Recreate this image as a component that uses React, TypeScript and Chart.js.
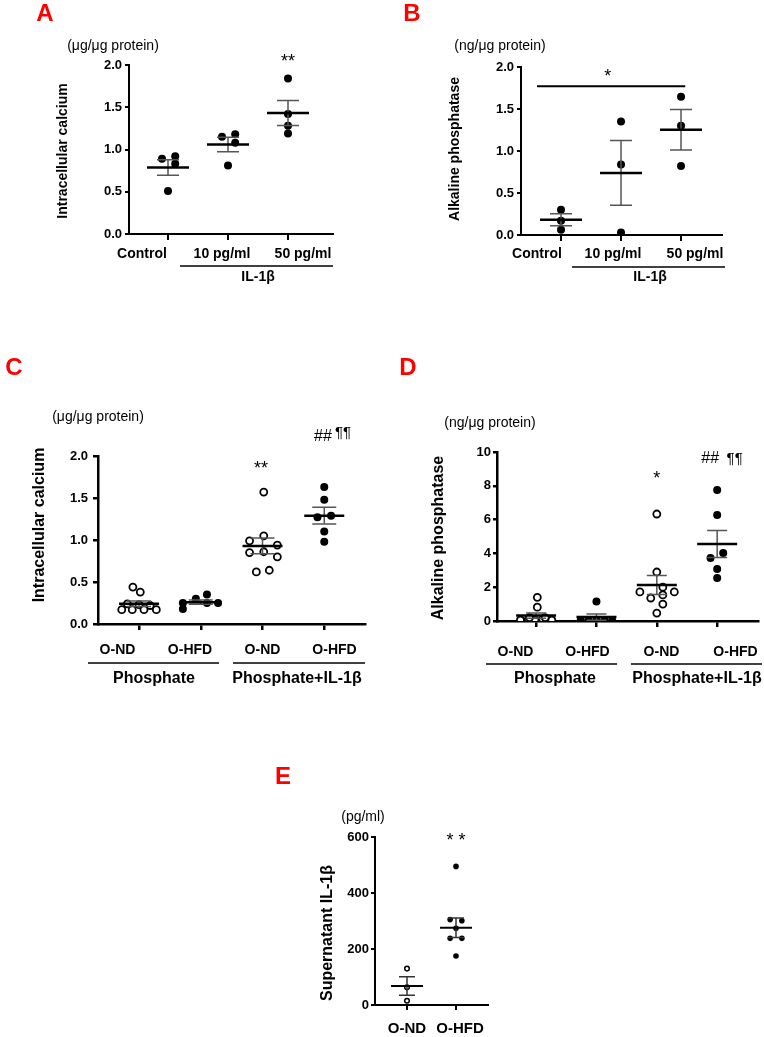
import React, { useEffect, useRef } from "react";
import { Chart, registerables } from "chart.js";
Chart.register(...registerables);

const FONT = 'Arial, "Liberation Sans", Helvetica, sans-serif';

// ---------- Panel A: intracellular calcium vs IL-1β dose ----------
const aCategories = ["Control", "10 pg/ml", "50 pg/ml"];
const aYTicks = [0, 0.5, 1.0, 1.5, 2.0];
const aControl = [0.89, 0.92, 0.83, 0.51];
const a10 = [1.15, 1.18, 1.08, 0.81];
const a50 = [1.84, 1.42, 1.28, 1.19];
const aMeans = [0.787, 1.059, 1.433];
const aSems = [0.092, 0.087, 0.148];
const aJitterControl = [-0.1, 0.12, 0.12, 0];
const aJitter10 = [-0.1, 0.12, 0.12, 0];
const aJitter50 = [0, 0, 0, 0];

// ---------- Panel B: alkaline phosphatase vs IL-1β dose ----------
const bCategories = ["Control", "10 pg/ml", "50 pg/ml"];
const bYTicks = [0, 0.5, 1.0, 1.5, 2.0];
const bControl = [0.3, 0.17, 0.063];
const b10 = [1.35, 0.84, 0.03];
const b50 = [1.645, 1.3, 0.82];
const bMeans = [0.182, 0.739, 1.253];
const bSems = [0.071, 0.386, 0.241];
const bJitter = [0, 0, 0];
const bSigLevel = 1.77;

// ---------- Panel C: intracellular calcium, O-ND / O-HFD ----------
const cCategories = ["O-ND", "O-HFD", "O-ND", "O-HFD"];
const cYTicks = [0, 0.5, 1.0, 1.5, 2.0];
const cPhosND = [0.44, 0.38, 0.24, 0.23, 0.22, 0.17, 0.17, 0.17, 0.17];
const cPhosHFD = [0.25, 0.18, 0.3, 0.35, 0.25, 0.25];
const cIlND = [1.57, 1.05, 0.99, 0.94, 0.85, 0.86, 0.8, 0.62, 0.64];
const cIlHFD = [1.63, 1.48, 1.27, 1.29, 1.1, 0.98];
const cMeans = [0.24, 0.26, 0.93, 1.29];
const cSems = [0.033, 0.025, 0.095, 0.1];
const cJitterPhosND = [-0.1, 0.02, -0.19, 0, 0.18, -0.28, -0.11, 0.08, 0.28];
const cJitterPhosHFD = [-0.29, -0.29, -0.08, 0.1, 0.1, 0.28];
const cJitterIlND = [0.02, 0.02, -0.21, 0.24, -0.21, 0.02, 0.24, -0.1, 0.11];
const cJitterIlHFD = [0, 0, -0.11, 0.11, 0, 0];

// ---------- Panel D: alkaline phosphatase, O-ND / O-HFD ----------
const dCategories = ["O-ND", "O-HFD", "O-ND", "O-HFD"];
const dYTicks = [0, 2, 4, 6, 8, 10];
const dPhosND = [1.4, 0.82, 0.06, 0.1, 0.06, 0.12, 0.06, 0.2, 0.2];
const dPhosHFD = [1.15, 0.05, 0.05, 0.05, 0.05, 0.05];
const dIlND = [6.33, 2.9, 1.72, 2.0, 1.72, 1.36, 1.54, 1.0, 0.47];
const dIlHFD = [7.75, 6.27, 3.73, 4.02, 3.08, 2.54];
const dMeans = [0.32, 0.23, 2.13, 4.56];
const dSems = [0.15, 0.18, 0.56, 0.8];
const dJitterPhosND = [0.02, 0.02, -0.26, -0.13, -0.02, 0.11, 0.26, -0.11, 0.15];
const dJitterPhosHFD = [0, -0.26, -0.13, 0, 0.13, 0.26];
const dJitterIlND = [0, 0, -0.28, 0.1, 0.29, -0.1, 0.1, 0.1, 0];
const dJitterIlHFD = [0, 0, -0.11, 0.1, 0, 0];

// ---------- Panel E: supernatant IL-1β ----------
const eCategories = ["O-ND", "O-HFD"];
const eYTicks = [0, 200, 400, 600];
const eND = [130, 63, 15];
const eHFD = [495, 305, 301, 274, 238, 238, 175];
const eMeans = [68, 276];
const eSems = [33, 35];
const eJitterND = [0, 0, 0];
const eJitterHFD = [0, -0.12, 0.12, 0, -0.12, 0.12, 0];

type Group = { values: number[]; jitter: number[]; filled: boolean; mean: number; sem: number };
type Txt = { text: string; x: number; y: number; size: number; bold?: boolean; color?: string; rotate?: boolean };
type Ann = { text: string; cat: number; value: number; size: number; bold?: boolean };
type Seg = { x1: number; y1: number; x2: number; y2: number; w: number };
type DataSeg = { from: number; to: number; value: number; w: number };
type Style = {
  pointRadius: number; openBorder: number; meanHalf: number; capHalf: number; axisWidth: number;
  errColor: string; errWidth: number; meanWidth: number;
  xFont: number; yFont: number; yPad: number; xTickLen: number; yTickLen: number;
};
type Panel = {
  box: [number, number, number, number];
  area: [number, number, number, number];
  xMin: number; xMax: number; categories: string[];
  labelX: number[]; labelY: number;
  yMin: number; yMax: number; yTicks: number[]; yDecimals: number;
  groups: Group[]; style: Style;
  texts: Txt[]; anns: Ann[]; segs: Seg[]; dataSegs: DataSeg[];
};

const grp = (values: number[], jitter: number[], filled: boolean, mean: number, sem: number): Group => ({ values, jitter, filled, mean, sem });

const panels: Panel[] = [
  {
    box: [0, 0, 382, 290], area: [129, 65, 333, 234],
    xMin: 0.35, xMax: 3.75, categories: aCategories,
    labelX: [142, 222, 303], labelY: 254,
    yMin: 0, yMax: 2, yTicks: aYTicks, yDecimals: 1,
    groups: [
      grp(aControl, aJitterControl, true, aMeans[0], aSems[0]),
      grp(a10, aJitter10, true, aMeans[1], aSems[1]),
      grp(a50, aJitter50, true, aMeans[2], aSems[2]),
    ],
    style: { pointRadius: 4, openBorder: 1.8, meanHalf: 21, capHalf: 11, axisWidth: 2, errColor: "#555", errWidth: 1.5, meanWidth: 2.5, xFont: 14, yFont: 13, yPad: 3, xTickLen: 6, yTickLen: 4 },
    texts: [
      { text: "A", x: 45, y: 14, size: 24, bold: true, color: "#ff0000" },
      { text: "(μg/μg protein)", x: 113, y: 46, size: 14 },
      { text: "Intracellular calcium", x: 63, y: 151, size: 14, bold: true, rotate: true },
      { text: "IL-1β", x: 258, y: 277, size: 14, bold: true },
    ],
    anns: [{ text: "**", cat: 3, value: 2.04, size: 18 }],
    segs: [{ x1: 180, y1: 266, x2: 333, y2: 266, w: 1.5 }],
    dataSegs: [],
  },
  {
    box: [382, 0, 382, 290], area: [521, 67, 722, 235],
    xMin: 0.333, xMax: 3.683, categories: bCategories,
    labelX: [537, 613, 695], labelY: 254,
    yMin: 0, yMax: 2, yTicks: bYTicks, yDecimals: 1,
    groups: [
      grp(bControl, bJitter, true, bMeans[0], bSems[0]),
      grp(b10, bJitter, true, bMeans[1], bSems[1]),
      grp(b50, bJitter, true, bMeans[2], bSems[2]),
    ],
    style: { pointRadius: 4, openBorder: 1.8, meanHalf: 21, capHalf: 11, axisWidth: 2, errColor: "#555", errWidth: 1.5, meanWidth: 2.5, xFont: 14, yFont: 13, yPad: 3, xTickLen: 6, yTickLen: 4 },
    texts: [
      { text: "B", x: 412, y: 14, size: 24, bold: true, color: "#ff0000" },
      { text: "(ng/μg protein)", x: 500, y: 46, size: 14 },
      { text: "Alkaline phosphatase", x: 455, y: 149, size: 14, bold: true, rotate: true },
      { text: "IL-1β", x: 650, y: 277, size: 14, bold: true },
    ],
    anns: [{ text: "*", cat: 1.78, value: 1.876, size: 18 }],
    segs: [{ x1: 572, y1: 267, x2: 725, y2: 267, w: 1.5 }],
    dataSegs: [{ from: 0.6, to: 3.07, value: bSigLevel, w: 2 }],
  },
  {
    box: [0, 340, 382, 360], area: [98, 456, 365, 624],
    xMin: 0.335, xMax: 4.66, categories: cCategories,
    labelX: [117.5, 190, 262.5, 334.5], labelY: 650,
    yMin: 0, yMax: 2, yTicks: cYTicks, yDecimals: 1,
    groups: [
      grp(cPhosND, cJitterPhosND, false, cMeans[0], cSems[0]),
      grp(cPhosHFD, cJitterPhosHFD, true, cMeans[1], cSems[1]),
      grp(cIlND, cJitterIlND, false, cMeans[2], cSems[2]),
      grp(cIlHFD, cJitterIlHFD, true, cMeans[3], cSems[3]),
    ],
    style: { pointRadius: 4, openBorder: 1.8, meanHalf: 20, capHalf: 12, axisWidth: 2.5, errColor: "#555", errWidth: 1.5, meanWidth: 2.5, xFont: 14, yFont: 13, yPad: 5, xTickLen: 6, yTickLen: 5 },
    texts: [
      { text: "C", x: 14, y: 368, size: 24, bold: true, color: "#ff0000" },
      { text: "(μg/μg protein)", x: 98, y: 417, size: 14 },
      { text: "Intracellular calcium", x: 40, y: 525, size: 16, bold: true, rotate: true },
      { text: "Phosphate", x: 154, y: 679, size: 16, bold: true },
      { text: "Phosphate+IL-1β", x: 297, y: 679, size: 16, bold: true },
    ],
    anns: [
      { text: "**", cat: 2.976, value: 1.84, size: 18 },
      { text: "##", cat: 3.98, value: 2.226, size: 16 },
      { text: "¶¶", cat: 4.305, value: 2.28, size: 15 },
    ],
    segs: [
      { x1: 88, y1: 663, x2: 219, y2: 663, w: 1.5 },
      { x1: 233, y1: 663, x2: 365, y2: 663, w: 1.5 },
    ],
    dataSegs: [],
  },
  {
    box: [382, 340, 382, 360], area: [497, 452, 764, 621],
    xMin: 0.352, xMax: 4.68, categories: dCategories,
    labelX: [515.5, 587.5, 661.5, 735.5], labelY: 652,
    yMin: 0, yMax: 10, yTicks: dYTicks, yDecimals: 0,
    groups: [
      grp(dPhosND, dJitterPhosND, false, dMeans[0], dSems[0]),
      grp(dPhosHFD, dJitterPhosHFD, true, dMeans[1], dSems[1]),
      grp(dIlND, dJitterIlND, false, dMeans[2], dSems[2]),
      grp(dIlHFD, dJitterIlHFD, true, dMeans[3], dSems[3]),
    ],
    style: { pointRadius: 4, openBorder: 1.8, meanHalf: 20, capHalf: 10, axisWidth: 2.5, errColor: "#555", errWidth: 1.5, meanWidth: 2.5, xFont: 14, yFont: 13, yPad: 2, xTickLen: 6, yTickLen: 4 },
    texts: [
      { text: "D", x: 408, y: 368, size: 24, bold: true, color: "#ff0000" },
      { text: "(ng/μg protein)", x: 490, y: 423, size: 14 },
      { text: "Alkaline phosphatase", x: 439, y: 538, size: 16, bold: true, rotate: true },
      { text: "Phosphate", x: 555, y: 679, size: 16, bold: true },
      { text: "Phosphate+IL-1β", x: 697, y: 679, size: 16, bold: true },
    ],
    anns: [
      { text: "*", cat: 3, value: 8.38, size: 18 },
      { text: "##", cat: 3.885, value: 9.59, size: 16 },
      { text: "¶¶", cat: 4.29, value: 9.59, size: 15 },
    ],
    segs: [
      { x1: 486, y1: 664, x2: 617, y2: 664, w: 1.5 },
      { x1: 631, y1: 664, x2: 762, y2: 664, w: 1.5 },
    ],
    dataSegs: [],
  },
  {
    box: [260, 750, 280, 287], area: [375, 837, 488, 1005],
    xMin: 0.347, xMax: 2.653, categories: eCategories,
    labelX: [407, 460], labelY: 1029,
    yMin: 0, yMax: 600, yTicks: eYTicks, yDecimals: 0,
    groups: [
      grp(eND, eJitterND, false, eMeans[0], eSems[0]),
      grp(eHFD, eJitterHFD, true, eMeans[1], eSems[1]),
    ],
    style: { pointRadius: 2.8, openBorder: 1.5, meanHalf: 16, capHalf: 8, axisWidth: 2, errColor: "#333", errWidth: 1.5, meanWidth: 2, xFont: 15, yFont: 13, yPad: 2, xTickLen: 5, yTickLen: 4 },
    texts: [
      { text: "E", x: 283, y: 777, size: 24, bold: true, color: "#ff0000" },
      { text: "(pg/ml)", x: 363, y: 817, size: 14 },
      { text: "Supernatant IL-1β", x: 328, y: 933, size: 16, bold: true, rotate: true },
    ],
    anns: [{ text: "* *", cat: 2, value: 584, size: 18 }],
    segs: [],
    dataSegs: [],
  },
];

function decor(p: Panel) {
  const [bl, bt] = p.box;
  const s = p.style;
  const put = (ctx: CanvasRenderingContext2D, t: string, x: number, y: number, size: number, bold?: boolean, color?: string, rotate?: boolean) => {
    ctx.save();
    ctx.font = `${bold ? "bold " : ""}${size}px ${FONT}`;
    ctx.fillStyle = color || "#000";
    ctx.textAlign = "center";
    ctx.textBaseline = "middle";
    ctx.translate(x, y);
    if (rotate) ctx.rotate(-Math.PI / 2);
    ctx.fillText(t, 0, 0);
    ctx.restore();
  };
  return {
    id: "decor",
    afterDatasetsDraw(chart: any) {
      const ctx: CanvasRenderingContext2D = chart.ctx;
      const xs = chart.scales.x;
      const ys = chart.scales.y;
      ctx.save();
      ctx.lineCap = "butt";
      p.groups.forEach((g, gi) => {
        const cx = xs.getPixelForValue(gi + 1);
        const yt = ys.getPixelForValue(g.mean + g.sem);
        const yb = ys.getPixelForValue(g.mean - g.sem);
        const ym = ys.getPixelForValue(g.mean);
        ctx.strokeStyle = s.errColor;
        ctx.lineWidth = s.errWidth;
        ctx.beginPath();
        ctx.moveTo(cx, yt); ctx.lineTo(cx, yb);
        ctx.moveTo(cx - s.capHalf, yt); ctx.lineTo(cx + s.capHalf, yt);
        ctx.moveTo(cx - s.capHalf, yb); ctx.lineTo(cx + s.capHalf, yb);
        ctx.stroke();
        ctx.strokeStyle = "#000";
        ctx.lineWidth = s.meanWidth;
        ctx.beginPath();
        ctx.moveTo(cx - s.meanHalf, ym); ctx.lineTo(cx + s.meanHalf, ym);
        ctx.stroke();
      });
      ctx.restore();
    },
    afterDraw(chart: any) {
      const ctx: CanvasRenderingContext2D = chart.ctx;
      const xs = chart.scales.x;
      const ys = chart.scales.y;
      ctx.save();
      ctx.strokeStyle = "#000";
      p.segs.forEach((sg) => {
        ctx.lineWidth = sg.w;
        ctx.beginPath();
        ctx.moveTo(sg.x1 - bl, sg.y1 - bt);
        ctx.lineTo(sg.x2 - bl, sg.y2 - bt);
        ctx.stroke();
      });
      p.dataSegs.forEach((ds) => {
        const y = ys.getPixelForValue(ds.value);
        ctx.lineWidth = ds.w;
        ctx.beginPath();
        ctx.moveTo(xs.getPixelForValue(ds.from), y);
        ctx.lineTo(xs.getPixelForValue(ds.to), y);
        ctx.stroke();
      });
      ctx.restore();
      // category labels (placed as in the figure, spread apart)
      p.categories.forEach((c, i) => put(ctx, c, p.labelX[i] - bl, p.labelY - bt, s.xFont, true));
      p.texts.forEach((t) => put(ctx, t.text, t.x - bl, t.y - bt, t.size, t.bold, t.color, t.rotate));
      p.anns.forEach((a) => put(ctx, a.text, xs.getPixelForValue(a.cat), ys.getPixelForValue(a.value), a.size, a.bold));
    },
  };
}

function makeConfig(p: Panel): any {
  const [bl, bt, bw, bh] = p.box;
  const [al, at, ar, ab] = p.area;
  const s = p.style;
  const datasets = p.groups.map((g, gi) => ({
    label: p.categories[gi],
    data: g.values.map((v, i) => ({ x: gi + 1 + g.jitter[i], y: v })),
    pointRadius: g.filled ? s.pointRadius : s.pointRadius - 0.5,
    pointHoverRadius: s.pointRadius,
    pointBackgroundColor: g.filled ? "#000" : "#fff",
    pointBorderColor: "#000",
    pointBorderWidth: g.filled ? 0 : s.openBorder,
    showLine: false,
  }));
  return {
    type: "scatter",
    data: { datasets },
    options: {
      responsive: false,
      animation: false,
      events: [],
      layout: { padding: { left: 0, top: at - bt, right: bl + bw - ar, bottom: 0 } },
      plugins: { legend: { display: false }, tooltip: { enabled: false }, title: { display: false } },
      scales: {
        x: {
          type: "linear",
          min: p.xMin,
          max: p.xMax,
          afterBuildTicks: (sc: any) => {
            sc.ticks = p.categories.map((_, i) => ({ value: i + 1 }));
          },
          afterFit: (sc: any) => {
            sc.height = bt + bh - ab;
          },
          ticks: { display: false, autoSkip: false, maxRotation: 0 },
          grid: { display: true, drawOnChartArea: false, drawTicks: true, tickLength: s.xTickLen, color: "#000", lineWidth: s.axisWidth },
          border: { display: true, color: "#000", width: s.axisWidth },
        },
        y: {
          type: "linear",
          min: p.yMin,
          max: p.yMax,
          afterBuildTicks: (sc: any) => {
            sc.ticks = p.yTicks.map((v) => ({ value: v }));
          },
          afterFit: (sc: any) => {
            sc.width = al - bl;
          },
          ticks: {
            padding: s.yPad,
            color: "#000",
            font: { family: FONT, size: s.yFont, weight: "bold" },
            callback: (v: any) => Number(v).toFixed(p.yDecimals),
          },
          grid: { display: true, drawOnChartArea: false, drawTicks: true, tickLength: s.yTickLen, color: "#000", lineWidth: s.axisWidth },
          border: { display: true, color: "#000", width: s.axisWidth },
        },
      },
    },
    plugins: [decor(p)],
  };
}

function PanelChart({ p }: { p: Panel }) {
  const ref = useRef<HTMLCanvasElement | null>(null);
  useEffect(() => {
    if (!ref.current) return;
    const chart = new Chart(ref.current, makeConfig(p));
    return () => chart.destroy();
  }, [p]);
  const [bl, bt, bw, bh] = p.box;
  return (
    <canvas
      ref={ref}
      width={bw}
      height={bh}
      style={{ position: "absolute", left: bl, top: bt, width: bw, height: bh }}
    />
  );
}

export default function App() {
  return (
    <div style={{ position: "absolute", left: 0, top: 0, width: 764, height: 1037, background: "#fff", overflow: "hidden" }}>
      {panels.map((p, i) => (
        <PanelChart key={i} p={p} />
      ))}
    </div>
  );
}
